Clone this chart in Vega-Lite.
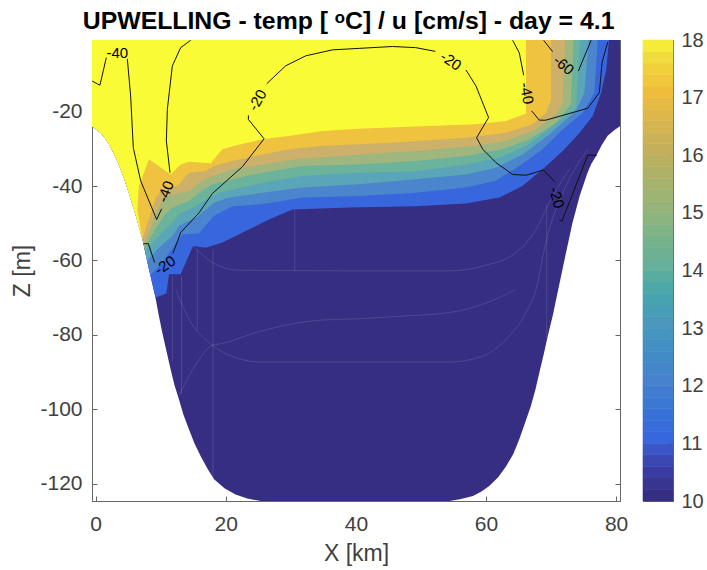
{"$schema":"https://vega.github.io/schema/vega-lite/v6.json","padding":{"left":11,"top":9,"right":0,"bottom":0},"background":"white","bounds":"flush","spacing":23,
"title":{"text":"UPWELLING - temp [ ᵒC] / u [cm/s] - day = 4.1","font":"Liberation Sans","fontSize":24.8,"fontWeight":"bold","color":"#000000","anchor":"middle","dx":-9,"dy":9.5,"offset":5},
"config":{"view":{"stroke":"#666666","strokeWidth":1},"font":"Liberation Sans"},
"datasets":{
"bands":[
{"p":"a","x":-0.56,"z":-0.75},{"p":"a","x":-0.56,"z":-23.9},{"p":"a","x":0.77,"z":-25.7},{"p":"a","x":1.4,"z":-27},{"p":"a","x":2.05,"z":-28.8},{"p":"a","x":2.7,"z":-30.9},{"p":"a","x":3.33,"z":-33.3},{"p":"a","x":4,"z":-36.1},{"p":"a","x":4.6,"z":-39.1},{"p":"a","x":5.25,"z":-42.6},{"p":"a","x":5.9,"z":-46.3},{"p":"a","x":6.55,"z":-50.2},{"p":"a","x":7.2,"z":-54.3},{"p":"a","x":8.2,"z":-62.4},{"p":"a","x":9.2,"z":-70},{"p":"a","x":9.7,"z":-74.7},{"p":"a","x":10.25,"z":-79.4},{"p":"a","x":10.9,"z":-84.5},{"p":"a","x":11.53,"z":-89.3},{"p":"a","x":12.1,"z":-93.4},{"p":"a","x":12.8,"z":-97.3},{"p":"a","x":13.5,"z":-101.5},{"p":"a","x":14.35,"z":-105.4},{"p":"a","x":15.2,"z":-109.2},{"p":"a","x":16.15,"z":-112.6},{"p":"a","x":17.2,"z":-116},{"p":"a","x":18.2,"z":-118.8},{"p":"a","x":19.8,"z":-121.2},{"p":"a","x":21.5,"z":-122.9},{"p":"a","x":23.3,"z":-124},{"p":"a","x":25.4,"z":-124.65},{"p":"a","x":54.4,"z":-124.65},{"p":"a","x":56,"z":-124.2},{"p":"a","x":58,"z":-123.3},{"p":"a","x":59.3,"z":-122.1},{"p":"a","x":60.5,"z":-120.6},{"p":"a","x":61.9,"z":-118.2},{"p":"a","x":63.1,"z":-115.3},{"p":"a","x":64.2,"z":-112},{"p":"a","x":65.1,"z":-108.1},{"p":"a","x":66,"z":-103.7},{"p":"a","x":66.9,"z":-99.1},{"p":"a","x":67.6,"z":-94.7},{"p":"a","x":68.2,"z":-90.2},{"p":"a","x":68.9,"z":-85},{"p":"a","x":69.5,"z":-80.3},{"p":"a","x":70.3,"z":-74.5},{"p":"a","x":71,"z":-68.7},{"p":"a","x":72.3,"z":-57.9},{"p":"a","x":73.3,"z":-49.9},{"p":"a","x":74.4,"z":-42.7},{"p":"a","x":75.6,"z":-36.4},{"p":"a","x":76.2,"z":-34},{"p":"a","x":76.9,"z":-32},{"p":"a","x":77.8,"z":-29},{"p":"a","x":78.7,"z":-26.5},{"p":"a","x":79.7,"z":-25},{"p":"a","x":80.6,"z":-23.9},{"p":"a","x":80.6,"z":-0.75},
{"p":"b","x":-0.56,"z":-0.75},{"p":"b","x":-0.56,"z":-23.9},{"p":"b","x":0.77,"z":-25.7},{"p":"b","x":1.4,"z":-27},{"p":"b","x":2.05,"z":-28.8},{"p":"b","x":2.7,"z":-30.9},{"p":"b","x":3.33,"z":-33.3},{"p":"b","x":4,"z":-36.1},{"p":"b","x":4.6,"z":-39.1},{"p":"b","x":5.25,"z":-42.6},{"p":"b","x":5.9,"z":-46.3},{"p":"b","x":6.55,"z":-50.2},{"p":"b","x":7.2,"z":-54.3},{"p":"b","x":8.2,"z":-62.4},{"p":"b","x":9.23,"z":-70},{"p":"b","x":10.87,"z":-68.8},{"p":"b","x":11.28,"z":-63.7},{"p":"b","x":13.07,"z":-63.7},{"p":"b","x":14.97,"z":-56.1},{"p":"b","x":16.92,"z":-56.6},{"p":"b","x":19.48,"z":-55.2},{"p":"b","x":23.07,"z":-52.1},{"p":"b","x":26.66,"z":-49},{"p":"b","x":30.25,"z":-46.3},{"p":"b","x":39,"z":-45.8},{"p":"b","x":49.2,"z":-45.4},{"p":"b","x":56.9,"z":-44.7},{"p":"b","x":62.05,"z":-43.1},{"p":"b","x":65.6,"z":-40},{"p":"b","x":68.7,"z":-35.5},{"p":"b","x":71.8,"z":-30.6},{"p":"b","x":74.4,"z":-25.7},{"p":"b","x":76.4,"z":-21.2},{"p":"b","x":77.7,"z":-14.9},{"p":"b","x":78.5,"z":-8.6},{"p":"b","x":78.9,"z":-0.75},
{"p":"c","x":-0.56,"z":-0.75},{"p":"c","x":-0.56,"z":-23.9},{"p":"c","x":0.77,"z":-25.7},{"p":"c","x":1.4,"z":-27},{"p":"c","x":2.05,"z":-28.8},{"p":"c","x":2.7,"z":-30.9},{"p":"c","x":3.33,"z":-33.3},{"p":"c","x":4,"z":-36.1},{"p":"c","x":4.6,"z":-39.1},{"p":"c","x":5.25,"z":-42.6},{"p":"c","x":5.9,"z":-46.3},{"p":"c","x":6.55,"z":-50.2},{"p":"c","x":7.2,"z":-54.3},{"p":"c","x":8.4,"z":-64},{"p":"c","x":10.25,"z":-60.6},{"p":"c","x":12.05,"z":-56.1},{"p":"c","x":13.33,"z":-53},{"p":"c","x":15.89,"z":-52.7},{"p":"c","x":18.2,"z":-48},{"p":"c","x":21.02,"z":-45.4},{"p":"c","x":25.64,"z":-44.9},{"p":"c","x":31.79,"z":-43.1},{"p":"c","x":40.5,"z":-42.7},{"p":"c","x":49.2,"z":-41.8},{"p":"c","x":56.92,"z":-40.4},{"p":"c","x":61.53,"z":-38.6},{"p":"c","x":65.12,"z":-34.6},{"p":"c","x":68.71,"z":-30.1},{"p":"c","x":71.79,"z":-24.8},{"p":"c","x":74.87,"z":-20.3},{"p":"c","x":76.66,"z":-14.9},{"p":"c","x":77.18,"z":-0.75},
{"p":"d","x":-0.56,"z":-0.75},{"p":"d","x":-0.56,"z":-23.9},{"p":"d","x":0.77,"z":-25.7},{"p":"d","x":1.4,"z":-27},{"p":"d","x":2.05,"z":-28.8},{"p":"d","x":2.7,"z":-30.9},{"p":"d","x":3.33,"z":-33.3},{"p":"d","x":4,"z":-36.1},{"p":"d","x":4.6,"z":-39.1},{"p":"d","x":5.25,"z":-42.6},{"p":"d","x":5.9,"z":-46.3},{"p":"d","x":6.55,"z":-50.2},{"p":"d","x":7.2,"z":-54.3},{"p":"d","x":7.9,"z":-60},{"p":"d","x":9.74,"z":-56.6},{"p":"d","x":11.79,"z":-53.4},{"p":"d","x":12.82,"z":-50.7},{"p":"d","x":15.38,"z":-48.5},{"p":"d","x":18.2,"z":-44.5},{"p":"d","x":20.51,"z":-43.1},{"p":"d","x":25.64,"z":-41.8},{"p":"d","x":31.79,"z":-40.4},{"p":"d","x":40.5,"z":-39.5},{"p":"d","x":49.2,"z":-38.2},{"p":"d","x":56.92,"z":-36.9},{"p":"d","x":61.53,"z":-35.1},{"p":"d","x":65.64,"z":-31.5},{"p":"d","x":69.74,"z":-26.1},{"p":"d","x":73.84,"z":-19.8},{"p":"d","x":75.12,"z":-14.9},{"p":"d","x":75.79,"z":-0.75},
{"p":"e","x":-0.56,"z":-0.75},{"p":"e","x":-0.56,"z":-23.9},{"p":"e","x":0.77,"z":-25.7},{"p":"e","x":1.4,"z":-27},{"p":"e","x":2.05,"z":-28.8},{"p":"e","x":2.7,"z":-30.9},{"p":"e","x":3.33,"z":-33.3},{"p":"e","x":4,"z":-36.1},{"p":"e","x":4.6,"z":-39.1},{"p":"e","x":5.25,"z":-42.6},{"p":"e","x":5.9,"z":-46.3},{"p":"e","x":6.55,"z":-50.2},{"p":"e","x":7.2,"z":-54.3},{"p":"e","x":7.6,"z":-57.5},{"p":"e","x":9.48,"z":-53.9},{"p":"e","x":11.79,"z":-49.9},{"p":"e","x":12.82,"z":-47.6},{"p":"e","x":15.38,"z":-45.4},{"p":"e","x":16.92,"z":-43.6},{"p":"e","x":18.97,"z":-41.8},{"p":"e","x":25.64,"z":-39.1},{"p":"e","x":31.79,"z":-37.3},{"p":"e","x":40.5,"z":-36.4},{"p":"e","x":49.2,"z":-36},{"p":"e","x":56.92,"z":-34.2},{"p":"e","x":62.05,"z":-32.4},{"p":"e","x":66.15,"z":-29.2},{"p":"e","x":70.25,"z":-23.9},{"p":"e","x":73.84,"z":-18.9},{"p":"e","x":74.46,"z":-0.75},
{"p":"f","x":-0.56,"z":-0.75},{"p":"f","x":-0.56,"z":-23.9},{"p":"f","x":0.77,"z":-25.7},{"p":"f","x":1.4,"z":-27},{"p":"f","x":2.05,"z":-28.8},{"p":"f","x":2.7,"z":-30.9},{"p":"f","x":3.33,"z":-33.3},{"p":"f","x":4,"z":-36.1},{"p":"f","x":4.6,"z":-39.1},{"p":"f","x":5.25,"z":-42.6},{"p":"f","x":5.9,"z":-46.3},{"p":"f","x":6.55,"z":-50.2},{"p":"f","x":7.2,"z":-54.3},{"p":"f","x":7.5,"z":-56.8},{"p":"f","x":9.48,"z":-50.7},{"p":"f","x":10.51,"z":-48},{"p":"f","x":11.79,"z":-45.8},{"p":"f","x":14.35,"z":-44},{"p":"f","x":15.89,"z":-41.8},{"p":"f","x":17.95,"z":-39.5},{"p":"f","x":22.05,"z":-37.8},{"p":"f","x":25.64,"z":-36.4},{"p":"f","x":31.79,"z":-34.6},{"p":"f","x":40.5,"z":-34.2},{"p":"f","x":49.2,"z":-33.3},{"p":"f","x":56.92,"z":-31.9},{"p":"f","x":62.56,"z":-30.1},{"p":"f","x":66.66,"z":-27.4},{"p":"f","x":70.76,"z":-23},{"p":"f","x":73.07,"z":-18},{"p":"f","x":73.43,"z":-0.75},
{"p":"g","x":-0.56,"z":-0.75},{"p":"g","x":-0.56,"z":-23.9},{"p":"g","x":0.77,"z":-25.7},{"p":"g","x":1.4,"z":-27},{"p":"g","x":2.05,"z":-28.8},{"p":"g","x":2.7,"z":-30.9},{"p":"g","x":3.33,"z":-33.3},{"p":"g","x":4,"z":-36.1},{"p":"g","x":4.6,"z":-39.1},{"p":"g","x":5.25,"z":-42.6},{"p":"g","x":5.9,"z":-46.3},{"p":"g","x":6.55,"z":-50.2},{"p":"g","x":7.2,"z":-54.3},{"p":"g","x":7.4,"z":-56},{"p":"g","x":9.48,"z":-46.7},{"p":"g","x":10.51,"z":-43.1},{"p":"g","x":12.05,"z":-42.2},{"p":"g","x":14.35,"z":-41.3},{"p":"g","x":16.66,"z":-38.2},{"p":"g","x":21.02,"z":-35.5},{"p":"g","x":25.64,"z":-34.2},{"p":"g","x":30.76,"z":-32.8},{"p":"g","x":40.5,"z":-31.5},{"p":"g","x":49.2,"z":-30.6},{"p":"g","x":58.46,"z":-29.2},{"p":"g","x":63.07,"z":-27.9},{"p":"g","x":67.69,"z":-24.8},{"p":"g","x":70.76,"z":-20.7},{"p":"g","x":71.79,"z":-17.6},{"p":"g","x":72.15,"z":-0.75},
{"p":"h","x":-0.56,"z":-0.75},{"p":"h","x":-0.56,"z":-23.9},{"p":"h","x":0.77,"z":-25.7},{"p":"h","x":1.4,"z":-27},{"p":"h","x":2.05,"z":-28.8},{"p":"h","x":2.7,"z":-30.9},{"p":"h","x":3.33,"z":-33.3},{"p":"h","x":4,"z":-36.1},{"p":"h","x":4.6,"z":-39.1},{"p":"h","x":5.25,"z":-42.6},{"p":"h","x":5.9,"z":-46.3},{"p":"h","x":6.55,"z":-50.2},{"p":"h","x":7.2,"z":-54.3},{"p":"h","x":9.23,"z":-43.1},{"p":"h","x":10.51,"z":-40.4},{"p":"h","x":12.56,"z":-40},{"p":"h","x":14.35,"z":-36.4},{"p":"h","x":16.92,"z":-36},{"p":"h","x":18.2,"z":-34.6},{"p":"h","x":21.02,"z":-33.3},{"p":"h","x":25.64,"z":-31.5},{"p":"h","x":29.74,"z":-30.1},{"p":"h","x":34.87,"z":-29.2},{"p":"h","x":40.5,"z":-28.8},{"p":"h","x":46.66,"z":-28.2},{"p":"h","x":56.92,"z":-27},{"p":"h","x":63.07,"z":-25.7},{"p":"h","x":67.17,"z":-23.4},{"p":"h","x":69.23,"z":-20.3},{"p":"h","x":70,"z":-16.7},{"p":"h","x":70,"z":-0.75},
{"p":"i","x":-0.56,"z":-0.75},{"p":"i","x":-0.56,"z":-23.9},{"p":"i","x":0.77,"z":-25.7},{"p":"i","x":1.4,"z":-27},{"p":"i","x":2.05,"z":-28.8},{"p":"i","x":2.7,"z":-30.9},{"p":"i","x":3.33,"z":-33.3},{"p":"i","x":4,"z":-36.1},{"p":"i","x":4.6,"z":-39.1},{"p":"i","x":5.25,"z":-42.6},{"p":"i","x":5.9,"z":-46.3},{"p":"i","x":6.55,"z":-50.2},{"p":"i","x":7.2,"z":-54.3},{"p":"i","x":6.41,"z":-46.3},{"p":"i","x":6.66,"z":-40},{"p":"i","x":8.2,"z":-32.8},{"p":"i","x":11.53,"z":-36.9},{"p":"i","x":13.07,"z":-34.2},{"p":"i","x":14.35,"z":-33.5},{"p":"i","x":17.69,"z":-33.9},{"p":"i","x":19.48,"z":-30.1},{"p":"i","x":21.53,"z":-29.1},{"p":"i","x":25.64,"z":-27.4},{"p":"i","x":30.25,"z":-26.4},{"p":"i","x":34.87,"z":-25.2},{"p":"i","x":40.5,"z":-24.6},{"p":"i","x":49.2,"z":-24},{"p":"i","x":58.46,"z":-23.4},{"p":"i","x":63.07,"z":-22.5},{"p":"i","x":66.15,"z":-20.5},{"p":"i","x":66.15,"z":-0.75}
],
"seams":[
{"s":"v1","x":11.8,"z":-64},{"s":"v1","x":11.8,"z":-87},{"s":"v2","x":13.2,"z":-64},{"s":"v2","x":13.2,"z":-96},{"s":"v3","x":15.63,"z":-57},{"s":"v3","x":15.63,"z":-79},{"s":"v4","x":18.04,"z":-57},{"s":"v4","x":18.04,"z":-118.4},{"s":"v5","x":30.6,"z":-46.3},{"s":"v5","x":30.6,"z":-62.8},{"s":"v6","x":69.33,"z":-45},{"s":"v6","x":69.33,"z":-81},
{"s":"c1","x":12.3,"z":-67.8},{"s":"c1","x":14.35,"z":-75.8},{"s":"c1","x":17.94,"z":-82.8},{"s":"c1","x":21.5,"z":-86.1},{"s":"c1","x":25.4,"z":-87.3},{"s":"c1","x":54.4,"z":-87.3},{"s":"c1","x":59.5,"z":-85.7},{"s":"c1","x":63.07,"z":-81.2},{"s":"c1","x":66.15,"z":-74},{"s":"c1","x":67.69,"z":-67.8},{"s":"c1","x":69.2,"z":-55.2},{"s":"c1","x":72.3,"z":-40},{"s":"c1","x":75.64,"z":-30.1},
{"s":"c2","x":12.8,"z":-96.3},{"s":"c2","x":15.4,"z":-88},{"s":"c2","x":17.94,"z":-82.8},{"s":"c2","x":19.5,"z":-82.3},{"s":"c2","x":24.6,"z":-79.4},{"s":"c2","x":29.74,"z":-77.2},{"s":"c2","x":34.87,"z":-76},{"s":"c2","x":40,"z":-75.7},{"s":"c2","x":46.66,"z":-75},{"s":"c2","x":54.4,"z":-74},{"s":"c2","x":59.5,"z":-71.8},{"s":"c2","x":64.6,"z":-67.8},
{"s":"c3","x":14.9,"z":-56},{"s":"c3","x":18,"z":-60.6},{"s":"c3","x":22,"z":-62.6},{"s":"c3","x":40,"z":-62.8},{"s":"c3","x":54.4,"z":-62.8},{"s":"c3","x":59.5,"z":-61.5},{"s":"c3","x":64.6,"z":-57.9},{"s":"c3","x":67.7,"z":-51.6},{"s":"c3","x":69.7,"z":-44.5},{"s":"c3","x":72.8,"z":-35.5}
],
"lines":[
{"l":"a","x":-0.52,"z":-11.8},{"l":"a","x":0.66,"z":-12.9},{"l":"a","x":1.64,"z":-5.5},
{"l":"b","x":4.87,"z":-5.8},{"l":"b","x":5.38,"z":-15.8},{"l":"b","x":5.79,"z":-29.7},{"l":"b","x":6.92,"z":-38.6},{"l":"b","x":9.38,"z":-49},{"l":"b","x":10.15,"z":-46.1},
{"l":"c","x":11.43,"z":-36.4},{"l":"c","x":10.87,"z":-27.9},{"l":"c","x":11.02,"z":-19.4},{"l":"c","x":11.79,"z":-7.7},{"l":"c","x":13.07,"z":-2.8},{"l":"c","x":14.61,"z":-0.84},
{"l":"d","x":7.33,"z":-55.5},{"l":"d","x":8.1,"z":-55.5},{"l":"d","x":9.07,"z":-60.6},
{"l":"e","x":11.89,"z":-58.1},{"l":"e","x":13.07,"z":-52.5},{"l":"e","x":15.89,"z":-47.2},{"l":"e","x":17.95,"z":-42},{"l":"e","x":22.56,"z":-34.8},{"l":"e","x":25.89,"z":-27.3},{"l":"e","x":23.48,"z":-22.1},{"l":"e","x":23.48,"z":-21},
{"l":"f","x":26.3,"z":-12.5},{"l":"f","x":29.2,"z":-7.7},{"l":"f","x":32.3,"z":-5},{"l":"f","x":36.4,"z":-3.4},{"l":"f","x":40.5,"z":-3},{"l":"f","x":45.64,"z":-2.5},{"l":"f","x":49.2,"z":-2.8},{"l":"f","x":52.2,"z":-3.8},
{"l":"g","x":56.92,"z":-8.8},{"l":"g","x":58.46,"z":-13.1},{"l":"g","x":60.4,"z":-21.6},{"l":"g","x":58.56,"z":-27},{"l":"g","x":59.5,"z":-30.1},{"l":"g","x":61.53,"z":-33.7},{"l":"g","x":64.1,"z":-36.9},{"l":"g","x":66.15,"z":-37.1},{"l":"g","x":68.82,"z":-35.7},{"l":"g","x":70.66,"z":-39},
{"l":"h","x":71.28,"z":-49.1},{"l":"h","x":71.69,"z":-49.4},{"l":"h","x":75.64,"z":-31.7},{"l":"h","x":77.02,"z":-31.7},
{"l":"i","x":64.1,"z":-0.84},{"l":"i","x":65.12,"z":-4.2},{"l":"i","x":65.79,"z":-10.2},
{"l":"j","x":67.02,"z":-19.8},{"l":"j","x":68.2,"z":-22.3},{"l":"j","x":69.2,"z":-22.3},{"l":"j","x":75.64,"z":-19.1},{"l":"j","x":77.43,"z":-14.9},{"l":"j","x":77.84,"z":-6.8},{"l":"j","x":78.71,"z":-1.3},
{"l":"k","x":68.87,"z":-0.84},{"l":"k","x":70.25,"z":-3.9},
{"l":"m","x":74.2,"z":-9.1},{"l":"m","x":76.15,"z":-0.84}
],
"labels":[
{"t":"-40","x":3.33,"z":-4.15,"a":0},{"t":"-40","x":10.76,"z":-41.5,"a":-70},{"t":"-20","x":10.66,"z":-61.3,"a":-35},{"t":"-20","x":24.87,"z":-16.9,"a":-60},{"t":"-20","x":54.6,"z":-6.4,"a":35},{"t":"-40","x":66.25,"z":-15.1,"a":80},{"t":"-60","x":71.94,"z":-7.5,"a":40},{"t":"-20","x":70.87,"z":-43.1,"a":75}
],
"bar":[
{"lo":10,"hi":10.2},{"lo":10.2,"hi":10.4},{"lo":10.4,"hi":10.6},{"lo":10.6,"hi":10.8},{"lo":10.8,"hi":11},{"lo":11,"hi":11.2},{"lo":11.2,"hi":11.4},{"lo":11.4,"hi":11.6},{"lo":11.6,"hi":11.8},{"lo":11.8,"hi":12},{"lo":12,"hi":12.2},{"lo":12.2,"hi":12.4},{"lo":12.4,"hi":12.6},{"lo":12.6,"hi":12.8},{"lo":12.8,"hi":13},{"lo":13,"hi":13.2},{"lo":13.2,"hi":13.4},{"lo":13.4,"hi":13.6},{"lo":13.6,"hi":13.8},{"lo":13.8,"hi":14},{"lo":14,"hi":14.2},{"lo":14.2,"hi":14.4},{"lo":14.4,"hi":14.6},{"lo":14.6,"hi":14.8},{"lo":14.8,"hi":15},{"lo":15,"hi":15.2},{"lo":15.2,"hi":15.4},{"lo":15.4,"hi":15.6},{"lo":15.6,"hi":15.8},{"lo":15.8,"hi":16},{"lo":16,"hi":16.2},{"lo":16.2,"hi":16.4},{"lo":16.4,"hi":16.6},{"lo":16.6,"hi":16.8},{"lo":16.8,"hi":17},{"lo":17,"hi":17.2},{"lo":17.2,"hi":17.4},{"lo":17.4,"hi":17.6},{"lo":17.6,"hi":17.8},{"lo":17.8,"hi":18}
]},
"hconcat":[
{"width":528,"height":461,"resolve":{"axis":{"x":"independent","y":"independent"}},"layer":[
{"data":{"name":"bands"},"mark":{"type":"line","strokeWidth":0,"order":false,"clip":true},"encoding":{
"x":{"field":"x","type":"quantitative","scale":{"domain":[-0.56,80.6],"nice":false,"zero":false},"axis":{"values":[0,20,40,60,80],"grid":false,"title":"X [km]","titleFont":"Liberation Sans","titleFontSize":23,"titleFontWeight":"normal","titleColor":"#404040","titlePadding":8,"labelFont":"Liberation Sans","labelFontSize":21,"labelColor":"#404040","labelPadding":17,"tickSize":-5,"tickColor":"#666666","domainColor":"#666666","labelExpr":"'' + datum.value"}},
"y":{"field":"z","type":"quantitative","scale":{"domain":[-124.65,-0.75],"nice":false,"zero":false},"axis":{"values":[-20,-40,-60,-80,-100,-120],"grid":false,"title":"Z [m]","titleFont":"Liberation Sans","titleFontSize":23,"titleFontWeight":"normal","titleColor":"#404040","titlePadding":5,"labelFont":"Liberation Sans","labelFontSize":21,"labelColor":"#404040","labelPadding":15,"tickSize":-5,"tickColor":"#666666","domainColor":"#666666","labelExpr":"'' + datum.value"}},
"fill":{"field":"p","type":"nominal","legend":null,"scale":{"domain":["a","b","c","d","e","f","g","h","i"],"range":["#352E82","#3866DC","#4A85CE","#5BA5B8","#6BB39B","#9FB67E","#CDB06A","#EFC240","#F9FB36"]}}}},
{"data":{"name":"seams"},"mark":{"type":"line","stroke":"#ffffff","opacity":0.12,"strokeWidth":1,"order":false,"clip":true,"interpolate":"monotone"},"encoding":{
"x":{"field":"x","type":"quantitative","scale":{"domain":[-0.56,80.6],"nice":false,"zero":false},"axis":{"orient":"top","values":[0,20,40,60,80],"grid":false,"title":null,"labels":false,"tickSize":-5,"tickColor":"#666666","domainColor":"#666666"}},
"y":{"field":"z","type":"quantitative","scale":{"domain":[-124.65,-0.75],"nice":false,"zero":false},"axis":{"orient":"right","values":[-20,-40,-60,-80,-100,-120],"grid":false,"title":null,"labels":false,"tickSize":-5,"tickColor":"#666666","domainColor":"#666666"}},
"detail":{"field":"s","type":"nominal"}}},
{"data":{"name":"lines"},"mark":{"type":"line","stroke":"#111111","strokeWidth":1,"order":false,"clip":true},"encoding":{
"x":{"field":"x","type":"quantitative","scale":{"domain":[-0.56,80.6],"nice":false,"zero":false},"axis":null},
"y":{"field":"z","type":"quantitative","scale":{"domain":[-124.65,-0.75],"nice":false,"zero":false},"axis":null},
"detail":{"field":"l","type":"nominal"}}},
{"data":{"name":"labels"},"mark":{"type":"text","font":"Liberation Sans","fontSize":15,"color":"#000000","align":"center","baseline":"middle"},"encoding":{
"x":{"field":"x","type":"quantitative","scale":{"domain":[-0.56,80.6],"nice":false,"zero":false},"axis":null},
"y":{"field":"z","type":"quantitative","scale":{"domain":[-124.65,-0.75],"nice":false,"zero":false},"axis":null},
"text":{"field":"t","type":"nominal"},
"angle":{"field":"a","type":"quantitative","scale":null}}}
]},
{"width":30,"height":461,"data":{"name":"bar"},"mark":{"type":"rect","strokeWidth":0.6},"encoding":{
"y":{"field":"lo","type":"quantitative","scale":{"domain":[10,18],"nice":false,"zero":false},"axis":{"orient":"right","values":[10,11,12,13,14,15,16,17,18],"grid":false,"title":null,"labelFont":"Liberation Sans","labelFontSize":20,"labelColor":"#404040","labelPadding":13,"tickSize":-5,"tickColor":"#666666","domainColor":"#666666","format":"d"}},
"y2":{"field":"hi"},
"color":{"field":"lo","type":"quantitative","legend":null,"scale":{"domain":[10,10.5,11,12,13,14,15,16,17,17.6,18],"range":["#352E82","#3A3FA8","#3866DC","#4782CC","#4C98BC","#66AF98","#96B47A","#C3AF5C","#F0BC3C","#F0DC3C","#F9FB36"]}},
"stroke":{"field":"lo","type":"quantitative","legend":null,"scale":{"domain":[10,10.5,11,12,13,14,15,16,17,17.6,18],"range":["#352E82","#3A3FA8","#3866DC","#4782CC","#4C98BC","#66AF98","#96B47A","#C3AF5C","#F0BC3C","#F0DC3C","#F9FB36"]}}}}
]}
